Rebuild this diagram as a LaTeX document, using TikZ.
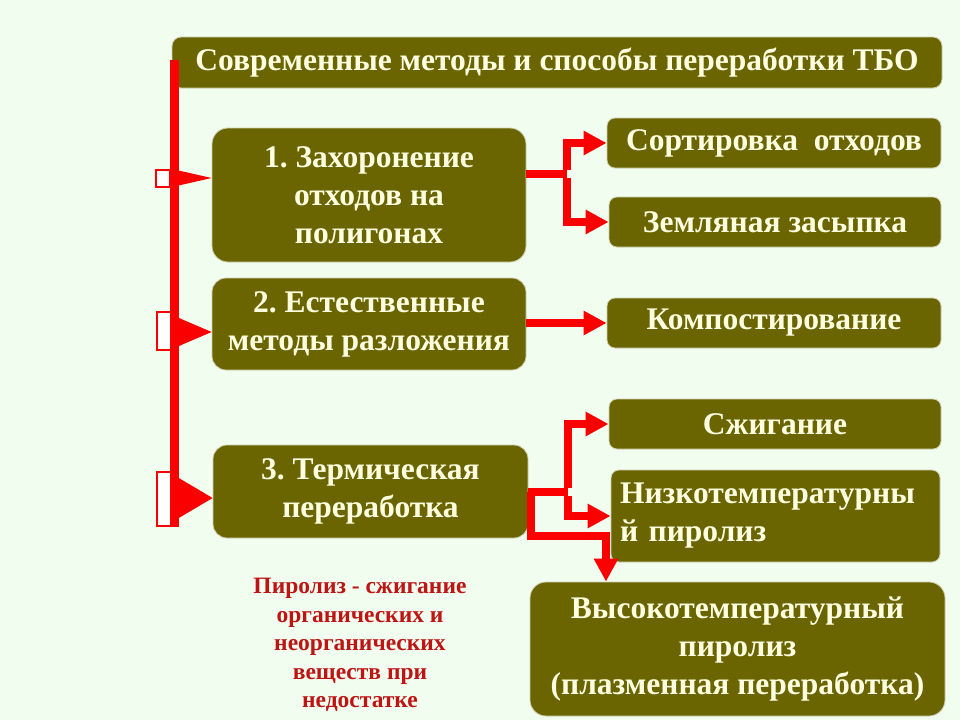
\documentclass[tikz,border=0pt]{standalone}
\usepackage{fontspec}
\setmainfont{Liberation Serif}
\frenchspacing
\usetikzlibrary{arrows.meta}
\definecolor{bg}{RGB}{240,253,239}
\definecolor{olive}{RGB}{106,101,0}
\definecolor{cream}{RGB}{255,255,225}
\definecolor{notered}{RGB}{190,20,20}
\definecolor{rd}{RGB}{250,0,0}
\tikzset{
  box/.style={fill=olive, draw=white!70!olive, line width=0.8pt, text=cream,
    font=\fontsize{31.5}{38}\selectfont\bfseries, align=center, inner sep=0pt},
  rbox/.style={box, rounded corners=8pt},
  redarrow/.style={draw=rd, line width=8pt, line join=miter,
    -{Triangle[length=23pt,width=23pt]}},
  redline/.style={draw=rd, line width=8pt, line join=miter},
  tailbox/.style={draw=rd, fill=white, line width=2.2pt},
  headtri/.style={fill=rd, draw=none}
}
\begin{document}
\begin{tikzpicture}[x=1pt,y=-1pt]
\useasboundingbox[fill=bg] (0,0) rectangle (960,720);

% boxes
\node[box, rounded corners=9pt, minimum width=770pt, minimum height=51pt] (title) at (557,62.5)
  {Современные методы и способы переработки ТБО};
\node[box, rounded corners=16pt, minimum width=314pt, minimum height=134pt] (b1) at (369,195)
  {1. Захоронение\\отходов на\\полигонах};
\node[box, rounded corners=14pt, minimum width=314pt, minimum height=92pt] (b2) at (369,324)
  {2. Естественные\\методы разложения};
\node[box, rounded corners=14pt, minimum width=315pt, minimum height=93pt] (b3) at (370.5,491.5)
  {3. Термическая\\переработка};
\node[rbox, minimum width=334pt, minimum height=50pt] (r1) at (774,143) {Сортировка\ \ отходов};
\node[rbox, minimum width=332pt, minimum height=50pt] (r2) at (775,222) {Земляная засыпка};
\node[rbox, minimum width=334pt, minimum height=50pt] (r3) at (774,323) {Компостирование};
\node[rbox, minimum width=332pt, minimum height=50pt] (r4) at (775,424) {Сжигание};
\node[rbox, minimum width=329pt, minimum height=92pt, text width=311pt, align=left] (r5) at (775.5,516)
  {Низкотемпературны\\й пиролиз};
\node[box, rounded corners=16pt, minimum width=415pt, minimum height=134pt] (r6) at (737.5,649)
  {Высокотемпературный\\пиролиз\\(плазменная переработка)};

\node[text=notered, font=\fontsize{23.5}{28.5}\selectfont\bfseries, align=center] (note) at (360,645)
  {Пиролиз - сжигание\\органических и\\неорганических\\веществ при\\недостатке};

% left trunk with tails
\draw[tailbox] (156,170) rectangle (170,187);
\draw[tailbox] (157,312) rectangle (171,350);
\draw[tailbox] (157,472) rectangle (171,526);
\coordinate (top) at (174,60);
\coordinate (bot) at (174,527);
\draw[redline, line width=9pt, line cap=butt] (top) -- (bot);
\coordinate (t1) at (172,178);
\coordinate (t2) at (172,332);
\coordinate (t3) at (172,498);
\fill[headtri] (172,169) -- (b1.west |- t1) -- (172,187) -- cycle;
\fill[headtri] (172,315) -- (b2.west |- t2) -- (172,349) -- cycle;
\fill[headtri] (172,474) -- (b3.west |- t3) -- (172,522) -- cycle;

% right connectors
\coordinate (j1) at (567,174);
\draw[redline] (b1.east |- j1) -- (j1);
\draw[redarrow] ([yshift=4pt]j1) |- (r1.west);
\draw[redarrow] ([yshift=-4pt]j1) |- (r2.west);

\draw[redarrow] (b2.east |- r3.west) -- (r3.west);

\coordinate (j3) at (568,492);
\draw[redline] (b3.east |- j3) -- (j3);
\draw[redarrow] ([yshift=4pt]j3) |- (r4.west);
\draw[redarrow] ([yshift=-4pt]j3) |- (r5.west);
\coordinate (k1) at (531,536);
\coordinate (k2) at (606,560);
\draw[redarrow] (k1 |- j3) -- (k1) -| (k2 |- r6.north);
\end{tikzpicture}
\end{document}
